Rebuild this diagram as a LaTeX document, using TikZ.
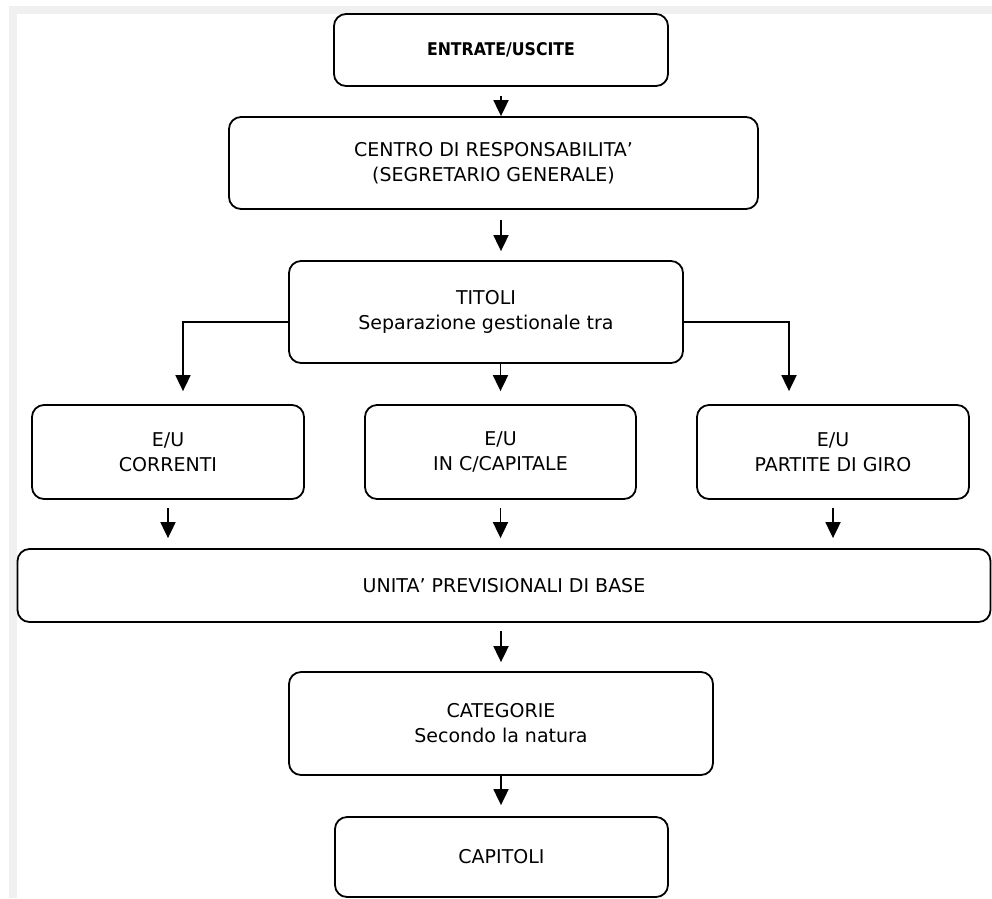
\documentclass[tikz,border=0pt]{standalone}
\usepackage{fontspec}
\setmainfont{DejaVu Sans}
\newfontfamily\titlefont{DejaVu Sans Condensed}
\usetikzlibrary{arrows.meta}
\definecolor{pagegray}{HTML}{F0F0F0}
\tikzset{
  box/.style={draw, rounded corners=12pt, line width=1.8pt, align=center,
    inner sep=0pt, font=\fontsize{19}{25}\selectfont},
  arr/.style={line width=1.8pt, -{Triangle[width=15pt,length=16pt]}}
}
\begin{document}
\begin{tikzpicture}[x=1pt,y=-1pt]
     \useasboundingbox (0,0) rectangle (992,898);
     \fill[pagegray] (9,6) rectangle (992,898);
     \fill[white] (17,14) rectangle (992,898);
     \node[box, minimum width=334pt, minimum height=72pt] (eu) at (501,50) {\titlefont\fontsize{17.5}{20}\selectfont\bfseries ENTRATE/USCITE};
     \node[box, minimum width=529pt, minimum height=92pt] (cdr) at (493.5,163) {CENTRO DI RESPONSABILITA’\\(SEGRETARIO GENERALE)};
     \node[box, minimum width=394pt, minimum height=102pt] (tit) at (486,312) {TITOLI\\Separazione gestionale tra};
     \node[box, minimum width=272pt, minimum height=94pt] (corr) at (168,452) {E/U\\CORRENTI};
     \node[box, minimum width=271pt, minimum height=94pt] (capc) at (500.5,452) {E/U\\IN C/CAPITALE};
     \node[box, minimum width=272pt, minimum height=94pt] (pdg) at (833,452) {E/U\\PARTITE DI GIRO};
     \node[box, minimum width=973pt, minimum height=73pt] (upb) at (504,585.5) {UNITA’ PREVISIONALI DI BASE};
     \node[box, minimum width=424pt, minimum height=103pt] (cat) at (501,723.5) {CATEGORIE\\Secondo la natura};
     \node[box, minimum width=333pt, minimum height=80pt] (capi) at (501.5,857) {CAPITOLI};
     \draw[arr, shorten <=9pt] (eu.south) -- (eu.south |- cdr.north);
     \draw[arr, shorten <=10pt, shorten >=9pt] (eu.south |- cdr.south) -- (eu.south |- tit.north);
     \draw[arr, shorten >=13pt] ([yshift=-10pt]tit.west) -| ([xshift=15pt]corr.north);
     \draw[arr, shorten >=13pt] ([yshift=-10pt]tit.east) -| ([xshift=-44pt]pdg.north);
     \draw[arr, shorten >=13pt] (capc.north |- tit.south) -- (capc.north);
     \draw[arr, shorten <=8pt, shorten >=10pt] (corr.south) -- (corr.south |- upb.north);
     \draw[arr, shorten <=8pt, shorten >=10pt] (capc.south) -- (capc.south |- upb.north);
     \draw[arr, shorten <=8pt, shorten >=10pt] (pdg.south) -- (pdg.south |- upb.north);
     \draw[arr, shorten <=8pt, shorten >=9pt] (cat.north |- upb.south) -- (cat.north);
     \draw[arr, shorten >=11pt] (cat.south) -- (cat.south |- capi.north);
\end{tikzpicture}
\end{document}
